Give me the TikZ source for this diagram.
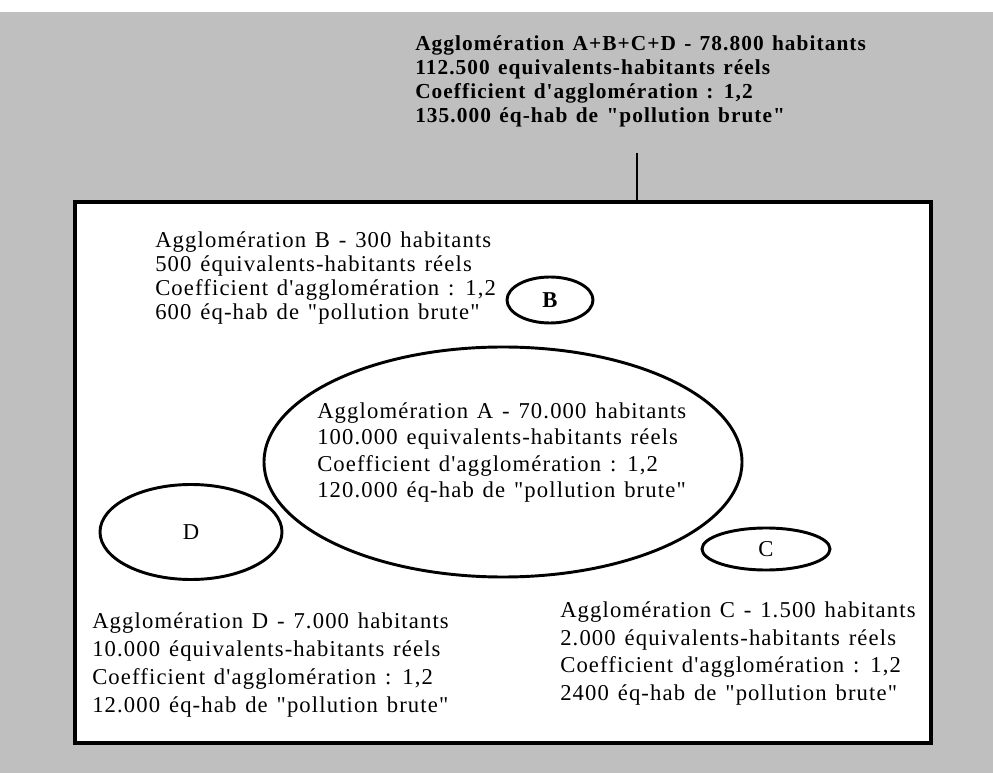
\documentclass[tikz,border=0pt]{standalone}
\usepackage{fontspec}
\setmainfont{Liberation Serif}[Ligatures=TeXOff]
\newfontfamily\tapuscrit{Liberation Serif}[Ligatures=TeXOff,LetterSpace=5,WordSpace=1.3]
\usetikzlibrary{shapes,positioning}
\definecolor{screen}{gray}{0.75}

\begin{document}
\begin{tikzpicture}[x=0.75pt,y=-0.75pt,
  bloc/.style={align=left,anchor=north west,inner sep=0pt,font=\tapuscrit\fontsize{17}{20.75}\selectfont},
  agglo/.style={draw,ellipse,line width=2.2pt,inner sep=0pt,font=\fontsize{17}{18}\selectfont}]
\useasboundingbox (0,0) rectangle (993,773);
\fill[screen] (0,12) rectangle (993,773);

\node[draw,line width=3pt,fill=white,anchor=north west,inner sep=0pt,
  minimum width=642pt,minimum height=405.75pt] (zone) at (73,200) {};

\node[bloc,font=\tapuscrit\bfseries\fontsize{16}{18}\selectfont] (total) at (415,35)
  {Agglomération A+B+C+D - 78.800 habitants\\
   112.500 equivalents-habitants réels\\
   Coefficient d'agglomération : 1,2\\
   135.000 éq-hab de "pollution brute"};
\coordinate (attache) at (637,153);
\draw[line width=2pt] (attache) -- (attache |- zone.north);

\node[agglo,minimum width=358.5pt,minimum height=172.5pt] (A) at (503,462) {};
\node[agglo,minimum width=64.5pt,minimum height=34.5pt,font=\bfseries\fontsize{17}{18}\selectfont] (B) at (550,300) {B};
\node[agglo,minimum width=96pt,minimum height=31.5pt] (C) at (766,549) {C};
\node[agglo,minimum width=136.5pt,minimum height=71.25pt] (D) at (191,532) {D};

\node[bloc,font=\tapuscrit\fontsize{17}{18}\selectfont] (infoB) at (155,231.5)
  {Agglomération B - 300 habitants\\
   500 équivalents-habitants réels\\
   Coefficient d'agglomération : 1,2\\
   600 éq-hab de "pollution brute"};
\node[bloc,font=\tapuscrit\fontsize{17}{19.75}\selectfont] (infoA) at (317,402.5)
  {Agglomération A - 70.000 habitants\\
   100.000 equivalents-habitants réels\\
   Coefficient d'agglomération : 1,2\\
   120.000 éq-hab de "pollution brute"};
\node[bloc,font=\tapuscrit\fontsize{17}{21}\selectfont] (infoD) at (92,612.5)
  {Agglomération D - 7.000 habitants\\
   10.000 équivalents-habitants réels\\
   Coefficient d'agglomération : 1,2\\
   12.000 éq-hab de "pollution brute"};
\node[bloc] (infoC) at (560,601.5)
  {Agglomération C - 1.500 habitants\\
   2.000 équivalents-habitants réels\\
   Coefficient d'agglomération : 1,2\\
   2400 éq-hab de "pollution brute"};
\end{tikzpicture}
\end{document}
